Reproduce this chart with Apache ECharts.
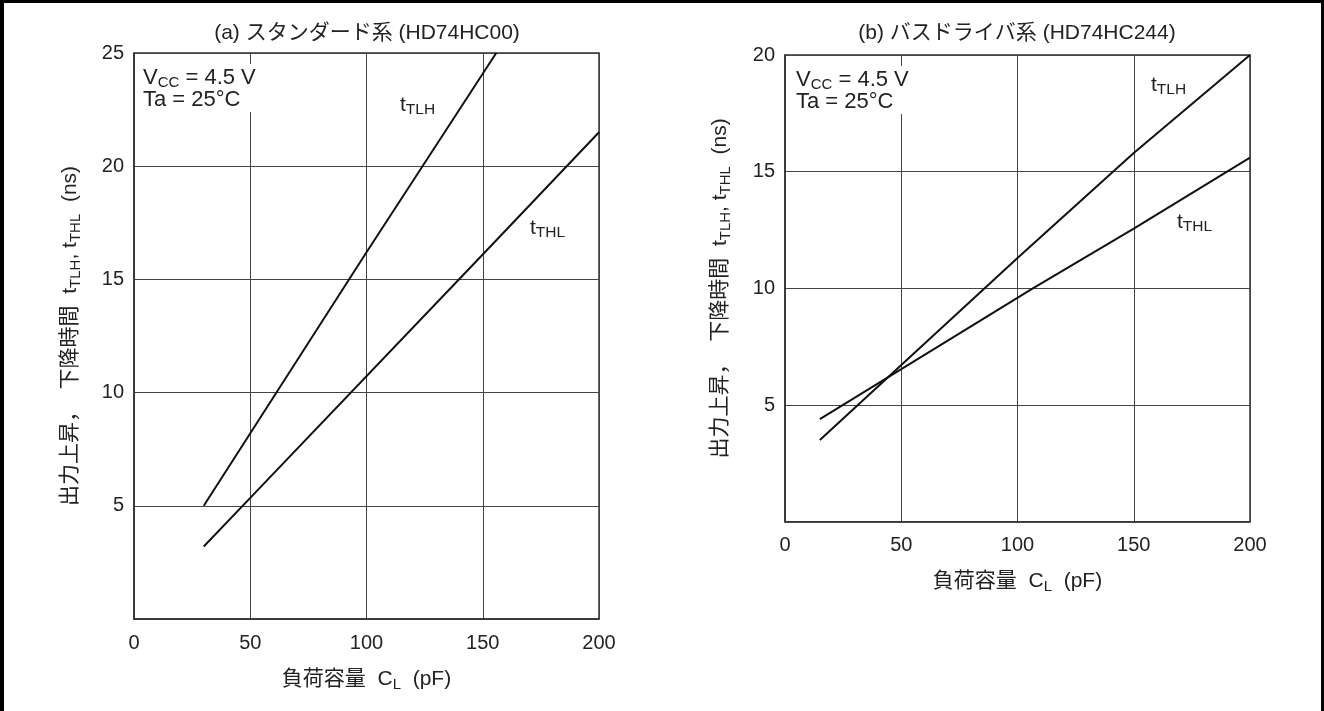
<!DOCTYPE html>
<html>
<head>
<meta charset="utf-8">
<title>出力上昇，下降時間 — 負荷容量特性</title>
<script src="https://cdn.jsdelivr.net/npm/echarts@6/dist/echarts.min.js"></script>
<style>
  html, body { margin: 0; padding: 0; background: #fff; }
  #frame {
    position: absolute; left: 0; top: 0; width: 1324px; height: 711px;
    box-sizing: border-box;
    border-top: 3px solid #000; border-left: 4px solid #000; border-right: 3px solid #000;
  }
  #chart { position: absolute; left: 0; top: 0; width: 1324px; height: 711px; }
</style>
</head>
<body>
<div id="frame"></div>
<div id="chart"></div>
<script>
// Load capacitance ticks (pF)
const xTicks = [0, 50, 100, 150, 200];

// (a) standard family, HD74HC00
const capA_TLH = [30, 100, 155.8];
const tTLH_A   = [5, 16.2, 25];
const capA_THL = [30, 50, 150, 200];
const tTHL_A   = [3.2, 5.35, 16.1, 21.5];

// (b) bus driver family, HD74HC244
const capB_TLH = [15, 100, 150, 200];
const tTLH_B   = [3.5, 11.3, 15.8, 20];
const capB_THL = [15, 106.6, 150, 200];
const tTHL_B   = [4.4, 10, 12.56, 15.6];

const FONT = "'Liberation Sans', Arial, 'Noto Sans CJK JP', sans-serif";
const INK = '#222';
const GRIDC = '#444';

const pairs = (xs, ys) => xs.map((x, i) => [x, ys[i]]);

// subscripts: a short line box pinned to the bottom of a taller line
const nameRich = {
  m: { fontSize: 21, fontFamily: FONT, color: INK, lineHeight: 26 },
  s: { fontSize: 15, fontFamily: FONT, color: INK, verticalAlign: 'bottom', lineHeight: 13 }
};

function xAxisFor(gi) {
  return {
    gridIndex: gi, type: 'value', min: 0, max: 200, interval: 50,
    axisLine: { show: true, lineStyle: { color: '#333', width: 1.5 } },
    axisTick: { show: false },
    splitLine: { show: true, lineStyle: { color: GRIDC, width: 1 } },
    axisLabel: { margin: 14, fontSize: 20, fontFamily: FONT, color: INK },
    name: '{m|負荷容量  C}{s|L}{m|  (pF)}',
    nameLocation: 'middle', nameGap: 47,
    nameTextStyle: { fontSize: 21, fontFamily: FONT, color: INK, lineHeight: 26, rich: nameRich }
  };
}

function yAxisFor(gi, max, gap) {
  return {
    gridIndex: gi, type: 'value', min: 0, max: max, interval: 5,
    axisLine: { show: true, lineStyle: { color: '#333', width: 1.5 } },
    axisTick: { show: false },
    splitLine: { show: true, lineStyle: { color: GRIDC, width: 1 } },
    axisLabel: {
      margin: 10, fontSize: 20, fontFamily: FONT, color: INK,
      formatter: v => (v === 0 ? '' : String(v))
    },
    name: '{m|出力上昇，  下降時間  t}{s|TLH}{m|, t}{s|THL}{m|  (ns)}',
    nameLocation: 'middle', nameRotate: 90, nameGap: gap,
    nameTextStyle: { fontSize: 21, fontFamily: FONT, color: INK, lineHeight: 26, rich: nameRich }
  };
}

function lineSeries(gi, xs, ys) {
  return {
    type: 'line', xAxisIndex: gi, yAxisIndex: gi,
    data: pairs(xs, ys),
    showSymbol: false, symbol: 'none', silent: true,
    lineStyle: { color: '#111', width: 2 },
    z: 3
  };
}

const noteRich = {
  m: { fontSize: 22, fontFamily: FONT, color: INK, lineHeight: 24 },
  s: { fontSize: 15, fontFamily: FONT, color: INK, verticalAlign: 'bottom', lineHeight: 12 },
  n: { fontSize: 22, fontFamily: FONT, color: INK, lineHeight: 20 }
};
const tagRich = {
  m: { fontSize: 21, fontFamily: FONT, color: INK, lineHeight: 24 },
  s: { fontSize: 15.5, fontFamily: FONT, color: INK, verticalAlign: 'bottom', lineHeight: 12 }
};

function txt(x, y, text, rich, align, extra) {
  return {
    type: 'text', x: x, y: y, z: 50,
    style: Object.assign({
      text: text, rich: rich, fontSize: 21, fontFamily: FONT, fill: INK,
      align: align || 'left', verticalAlign: 'middle'
    }, extra || {})
  };
}

const chart = echarts.init(document.getElementById('chart'), null, { renderer: 'canvas' });

chart.setOption({
  animation: false,
  backgroundColor: 'transparent',
  grid: [
    { left: 134, top: 53, width: 465, height: 566, show: true, borderColor: '#333', borderWidth: 1.5, backgroundColor: 'transparent' },
    { left: 785, top: 55, width: 465, height: 466.7, show: true, borderColor: '#333', borderWidth: 1.5, backgroundColor: 'transparent' }
  ],
  xAxis: [xAxisFor(0), xAxisFor(1)],
  yAxis: [yAxisFor(0, 25, 51), yAxisFor(1, 20, 52)],
  series: [
    lineSeries(0, capA_TLH, tTLH_A),
    lineSeries(0, capA_THL, tTHL_A),
    lineSeries(1, capB_TLH, tTLH_B),
    lineSeries(1, capB_THL, tTHL_B)
  ],
  graphic: [
    txt(367, 33, '(a) スタンダード系 (HD74HC00)', null, 'center', { fontSize: 21 }),
    txt(1017, 33, '(b) バスドライバ系 (HD74HC244)', null, 'center', { fontSize: 21 }),
    txt(140, 88, '{m|V}{s|CC}{m| = 4.5 V}\n{n|Ta = 25°C}', noteRich, 'left', { backgroundColor: '#fff', padding: [2, 3, 2, 3] }),
    txt(793, 90, '{m|V}{s|CC}{m| = 4.5 V}\n{n|Ta = 25°C}', noteRich, 'left', { backgroundColor: '#fff', padding: [2, 3, 2, 3] }),
    txt(400, 105, '{m|t}{s|TLH}', tagRich, 'left'),
    txt(530, 228, '{m|t}{s|THL}', tagRich, 'left'),
    txt(1151, 85, '{m|t}{s|TLH}', tagRich, 'left'),
    txt(1177, 222, '{m|t}{s|THL}', tagRich, 'left')
  ]
});
</script>
</body>
</html>
